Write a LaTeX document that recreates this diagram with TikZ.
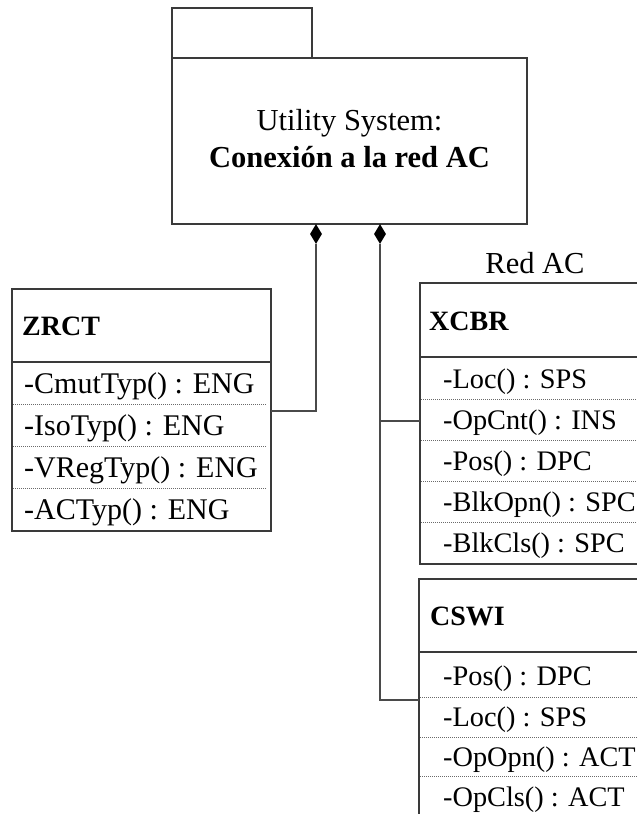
\documentclass[tikz,border=0pt]{standalone}
\usepackage{fontspec}
\setmainfont{Liberation Serif}
\usetikzlibrary{shapes.geometric}

\definecolor{edge}{HTML}{3A3A3A}
\definecolor{link}{HTML}{4A4A4A}
\definecolor{sep}{HTML}{6A6A6A}

\tikzset{
  frame/.style={draw=edge, line width=1.3pt, inner sep=0pt, outer sep=0pt, anchor=north west},
  divider/.style={draw=edge, line width=1.2pt},
  sepline/.style={draw=sep, line width=0.8pt, dash pattern=on 1pt off 1pt},
  connector/.style={draw=link, line width=1.2pt},
  comp/.style={diamond, fill=black, draw=none, inner sep=0pt, minimum width=12pt, minimum height=20pt},
  title/.style={font=\fontsize{28}{34}\selectfont\bfseries, inner sep=0pt, anchor=base west},
  attr/.style={font=\fontsize{30}{36}\selectfont, inner sep=0pt, anchor=base west},
  attrs/.style={font=\fontsize{28.3}{34}\selectfont, inner sep=0pt, anchor=base west},
  plain/.style={font=\fontsize{30.5}{36}\selectfont, inner sep=0pt, anchor=base},
}

\begin{document}
\begin{tikzpicture}[x=1pt, y=-1pt]
\useasboundingbox (0,0) rectangle (637,814);
\clip (0,0) rectangle (637,814);

% package: tab and body
\node[frame, minimum width=140pt, minimum height=50pt] (tab) at (172,8) {};
\node[frame, minimum width=355pt, minimum height=166pt] (pkg) at (172,58) {};
\node[plain] (pkgname) at (349.5,130) {Utility System:};
\node[plain, font=\fontsize{30.5}{36}\selectfont\bfseries] (pkgsub) at (349.5,167) {Conexión a la red AC};

% composition diamonds under the package
\node[comp] (d1) at (316,234) {};
\node[comp] (d2) at (380,234) {};

% ZRCT class
\node[frame, minimum width=259pt, minimum height=242pt] (zrct) at (12,289) {};
\draw[divider] (12,362) -- (271,362);
\foreach \y in {404,446,488} \draw[sepline] (13,\y) -- (266,\y);
\node[title] (zrctT) at (22,335) {ZRCT};
\node[attr] (z1) at (24,393) {-CmutTyp() : ENG};
\node[attr] (z2) at (24,435) {-IsoTyp() : ENG};
\node[attr] (z3) at (24,477) {-VRegTyp() : ENG};
\node[attr] (z4) at (24,519) {-ACTyp() : ENG};

% XCBR class
\node[frame, minimum width=240pt, minimum height=281pt] (xcbr) at (420,283) {};
\node[plain] (redac) at (535,273) {Red AC};
\draw[divider] (420,357) -- (660,357);
\foreach \y in {399,440,481,522} \draw[sepline] (421,\y) -- (640,\y);
\node[title] (xcbrT) at (429,330) {XCBR};
\node[attrs] (x1) at (443,388) {-Loc() : SPS};
\node[attrs] (x2) at (443,429) {-OpCnt() : INS};
\node[attrs] (x3) at (443,470) {-Pos() : DPC};
\node[attrs] (x4) at (443,511) {-BlkOpn() : SPC};
\node[attrs] (x5) at (443,552) {-BlkCls() : SPC};

% CSWI class
\node[frame, minimum width=240pt, minimum height=250pt] (cswi) at (419,579) {};
\draw[divider] (419,652) -- (660,652);
\foreach \y in {697,737,776} \draw[sepline] (420,\y) -- (640,\y);
\node[title] (cswiT) at (430,625) {CSWI};
\node[attrs] (c1) at (443,685) {-Pos() : DPC};
\node[attrs] (c2) at (443,726) {-Loc() : SPS};
\node[attrs] (c3) at (443,766) {-OpOpn() : ACT};
\node[attrs] (c4) at (443,806) {-OpCls() : ACT};

% composition links
\draw[connector] (d1.south) |- (zrct.east |- 0,411);
\draw[connector] (d2.south) |- (cswi.west |- 0,700);
\draw[connector] (d2.south |- 0,421) -- (xcbr.west |- 0,421);
\end{tikzpicture}
\end{document}
